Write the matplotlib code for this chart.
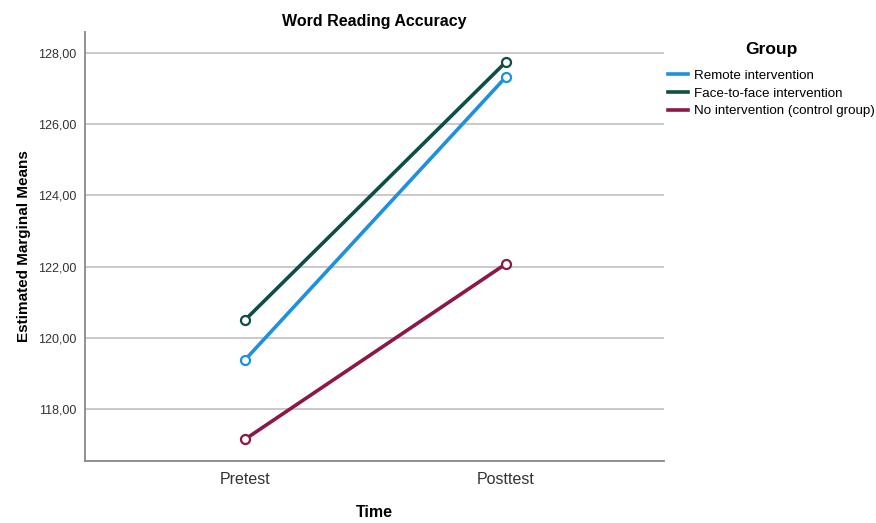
import matplotlib
matplotlib.use("Agg")
import matplotlib.pyplot as plt
from matplotlib.ticker import FuncFormatter

plt.rcParams['font.family'] = ['Liberation Sans', 'DejaVu Sans']

times = ["Pretest", "Posttest"]
groups = ["Remote intervention", "Face-to-face intervention", "No intervention (control group)"]
remote = [119.38, 127.33]
face = [120.50, 127.75]
control = [117.15, 122.08]
colors = ["#1f90dc", "#0d4f47", "#8c1848"]

fig = plt.figure(figsize=(8.76, 5.23), dpi=100)
ax = fig.add_axes([0.097, 0.1185, 0.661, 0.8205])

x = list(range(len(times)))
for vals, name, c in zip([remote, face, control], groups, colors):
    ax.plot(x, vals, color=c, lw=2.6, label=name, zorder=3)
    ax.plot(x, vals, ls="none", marker="o", ms=6.5, mfc="white", mec=c,
            mew=1.6, zorder=4)

ax.set_xlim(-0.613, 1.605)
ax.set_ylim(116.54, 128.59)
ax.set_yticks([118, 120, 122, 124, 126, 128])
ax.yaxis.set_major_formatter(FuncFormatter(lambda v, p: f"{v:.2f}".replace(".", ",")))
ax.set_xticks(x)
ax.set_xticklabels(times, fontsize=11.5, color="#333333")
ax.tick_params(axis="y", labelsize=9, length=0, pad=6, labelcolor="#333333")
ax.tick_params(axis="x", length=0, pad=8)
ax.grid(axis="y", color="#c0c0c0", lw=1.2, zorder=1)
ax.set_axisbelow(True)

for s in ["top", "right"]:
    ax.spines[s].set_visible(False)
for s in ["left", "bottom"]:
    ax.spines[s].set_color("#888888")
    ax.spines[s].set_linewidth(1.3)

ax.set_title("Word Reading Accuracy", fontsize=11.5, fontweight="bold", pad=4)
ax.set_xlabel("Time", fontsize=11.5, fontweight="bold", labelpad=13)
ax.set_ylabel("Estimated Marginal Means", fontsize=11, fontweight="bold", labelpad=5)

leg = ax.legend(loc="upper left", bbox_to_anchor=(1.002, 0.982), frameon=False,
                title="Group", fontsize=9.6, handlelength=1.5, handletextpad=0.45,
                labelspacing=0.4, borderaxespad=0.0, borderpad=0.2)
leg.get_title().set_fontsize(12.5)
leg.get_title().set_fontweight("bold")
leg._legend_box.align = "center"
leg._legend_box.sep = 9

fig.savefig("out.png", dpi=100)
